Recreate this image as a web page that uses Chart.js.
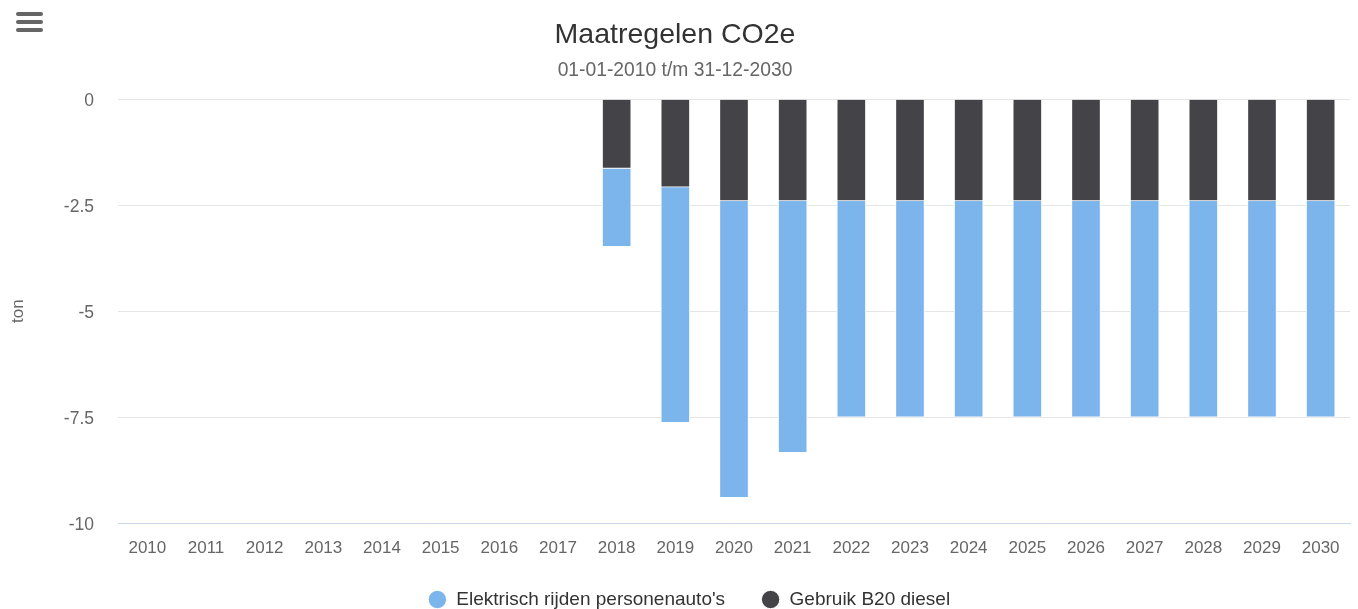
<!DOCTYPE html>
<html>
<head>
<meta charset="utf-8">
<script src="https://cdn.jsdelivr.net/npm/chart.js@4"></script>
<style>
  html, body { margin: 0; padding: 0; background: #fff; overflow: hidden; }
  #wrap { position: relative; width: 1358px; height: 609px; overflow: hidden; }
  #box { position: absolute; left: 0; top: 0; width: 1358px; height: 609px; }
  .bar { position: absolute; left: 16px; width: 27px; height: 4px; border-radius: 2px; background: #666; }
</style>
</head>
<body>
<div id="wrap">
  <div id="box"><canvas id="co2Chart"></canvas></div>
  <div class="bar" style="top:12px"></div>
  <div class="bar" style="top:20px"></div>
  <div class="bar" style="top:28px"></div>
</div>
<script>
const years = ['2010', '2011', '2012', '2013', '2014', '2015', '2016', '2017', '2018', '2019',
  '2020', '2021', '2022', '2023', '2024', '2025', '2026', '2027', '2028', '2029', '2030'];
const elektrischRijden = [0, 0, 0, 0, 0, 0, 0, 0, -1.85, -5.56, -7.0, -5.94, -5.1, -5.1, -5.1,
  -5.1, -5.1, -5.1, -5.1, -5.1, -5.1];
const gebruikB20 = [0, 0, 0, 0, 0, 0, 0, 0, -1.63, -2.07, -2.4, -2.4, -2.4, -2.4, -2.4,
  -2.4, -2.4, -2.4, -2.4, -2.4, -2.4];
const yTicks = [0, -2.5, -5, -7.5, -10];

const font = '"Liberation Sans", Arial, Helvetica, sans-serif';

// chart.js uses one padding for both the gap between legend items and the space above them,
// so move the legend box a bit after layout instead (and give it room so it isn't clipped)
const legendNudge = {
  id: 'legendNudge',
  afterLayout(chart, args, opts) {
    const lg = chart.legend;
    if (!lg) return;
    lg.left += opts.dx; lg.right += opts.dx;
    lg.top += opts.dy; lg.bottom += opts.dy + 80;
  }
};

const ctx = document.getElementById('co2Chart').getContext('2d');
new Chart(ctx, {
  type: 'bar',
  plugins: [legendNudge],
  data: {
    labels: years,
    datasets: [
      {
        // first dataset sits next to zero, like the dark series in the picture
        label: 'Gebruik B20 diesel',
        data: gebruikB20,
        backgroundColor: '#434348',
        borderColor: '#ffffff',
        borderWidth: 1,
        barThickness: 29
      },
      {
        label: "Elektrisch rijden personenauto's",
        data: elektrischRijden,
        backgroundColor: '#7cb5ec',
        borderColor: '#ffffff',
        borderWidth: 1,
        barThickness: 29
      }
    ]
  },
  options: {
    responsive: true,
    maintainAspectRatio: false,
    animation: false,
    layout: { padding: { left: 0, right: 8, top: 0, bottom: 0 } },
    plugins: {
      title: {
        display: true,
        text: 'Maatregelen CO2e',
        color: '#333333',
        font: { family: font, size: 28.5, weight: 'normal' },
        padding: { top: 18, bottom: 0 }
      },
      subtitle: {
        display: true,
        text: '01-01-2010 t/m 31-12-2030',
        color: '#666666',
        font: { family: font, size: 19.3 },
        padding: { top: 7, bottom: 17 }
      },
      legend: {
        position: 'bottom',
        maxHeight: 36,
        labels: {
          usePointStyle: true,
          pointStyle: 'circle',
          boxWidth: 19,
          boxHeight: 13,
          padding: 36,
          color: '#333333',
          font: { family: font, size: 19 },
          sort: (a, b) => b.datasetIndex - a.datasetIndex
        }
      },
      legendNudge: { dx: 14, dy: -19 },
      tooltip: { enabled: false }
    },
    scales: {
      x: {
        stacked: true,
        grid: { display: false, drawTicks: false },
        border: { display: true, color: '#ccd6eb', width: 1 },
        ticks: { color: '#666666', font: { family: font, size: 17 }, padding: 14.8, maxRotation: 0 }
      },
      y: {
        stacked: true,
        min: -10,
        max: 0,
        afterBuildTicks: (scale) => { scale.ticks = yTicks.map(v => ({ value: v })); },
        afterFit: (scale) => { scale.width = 118; },
        grid: {
          drawTicks: false,
          color: (c) => (c.tick && c.tick.value === -10 ? 'rgba(0,0,0,0)' : '#e6e6e6')
        },
        border: { display: false },
        ticks: {
          color: '#666666',
          font: { family: font, size: 17.5 },
          padding: 24,
          labelOffset: 2,
          callback: (v) => String(v)
        },
        title: {
          display: true,
          text: 'ton',
          color: '#666666',
          font: { family: font, size: 17 },
          padding: { top: 8, bottom: 0 }
        }
      }
    }
  }
});
</script>
</body>
</html>
